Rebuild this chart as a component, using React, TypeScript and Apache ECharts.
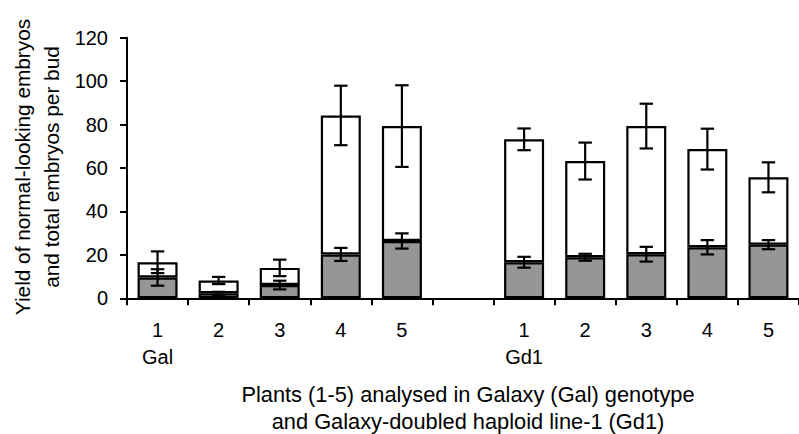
import React, { useEffect, useRef } from "react";
import * as echarts from "echarts";

// Plants 1-5 of Galaxy (Gal), an empty slot, then plants 1-5 of Gd1
const plantLabels = ["1", "2", "3", "4", "5", "", "1", "2", "3", "4", "5"];
const groupLabels = ["Gal", "", "", "", "", "", "Gd1", "", "", "", ""];

// Normal-looking embryos per bud (mean and error)
const normalMean = [9.6, 2.3, 6.1, 20.2, 26.4, null, 16.6, 18.9, 20.3, 23.5, 24.7];
const normalErr = [3.8, 0.7, 2.0, 3.0, 3.5, null, 2.5, 1.6, 3.4, 3.3, 2.1];

// Total embryos per bud (mean and error)
const totalMean = [16.6, 8.2, 14.0, 84.2, 79.3, null, 73.2, 63.2, 79.3, 68.7, 55.7];
const totalErr = [5.0, 1.65, 3.8, 13.7, 18.8, null, 5.0, 8.5, 10.3, 9.4, 6.9];

const yTicks = { min: 0, max: 120, interval: 20 };

const FONT = "'Liberation Sans', Arial, sans-serif";

function errorSeries(means: (number | null)[], errs: (number | null)[]) {
  const data: number[][] = [];
  means.forEach((m, i) => {
    if (m != null && errs[i] != null) data.push([i, m, errs[i] as number]);
  });
  return {
    type: "custom",
    z: 10,
    encode: { x: 0, y: 1 },
    data,
    renderItem: (_params: any, api: any) => {
      const idx = api.value(0);
      const m = api.value(1);
      const e = api.value(2);
      const hi = api.coord([idx, m + e]);
      const lo = api.coord([idx, m - e]);
      const half = 6.7;
      const style = { stroke: "#000", lineWidth: 2.2, fill: "none" };
      return {
        type: "group",
        children: [
          { type: "line", shape: { x1: hi[0], y1: hi[1], x2: lo[0], y2: lo[1] }, style },
          { type: "line", shape: { x1: hi[0] - half, y1: hi[1], x2: hi[0] + half, y2: hi[1] }, style },
          { type: "line", shape: { x1: lo[0] - half, y1: lo[1], x2: lo[0] + half, y2: lo[1] }, style },
        ],
      };
    },
  };
}

export default function App() {
  const ref = useRef<HTMLDivElement>(null);

  useEffect(() => {
    if (!ref.current) return;
    const chart = echarts.init(ref.current, null, { renderer: "svg" });

    const restOfTotal = totalMean.map((t, i) =>
      t == null || normalMean[i] == null ? null : +(t - (normalMean[i] as number)).toFixed(2)
    );

    chart.setOption({
      animation: false,
      backgroundColor: "#fff",
      textStyle: { fontFamily: FONT, color: "#000" },
      grid: { left: 127, top: 37.7, width: 677.6, height: 260.6, containLabel: false },
      xAxis: {
        type: "category",
        data: plantLabels,
        boundaryGap: true,
        axisLine: { show: true, lineStyle: { color: "#000", width: 2 } },
        axisTick: { show: true, length: 7, alignWithLabel: false, interval: 0, lineStyle: { color: "#000", width: 2 } },
        axisLabel: {
          interval: 0,
          margin: 18,
          color: "#000",
          fontSize: 20,
          lineHeight: 27,
          fontFamily: FONT,
          formatter: (value: string, index: number) =>
            groupLabels[index] ? `${value}\n${groupLabels[index]}` : value,
        },
        splitLine: { show: false },
      },
      yAxis: {
        type: "value",
        min: yTicks.min,
        max: yTicks.max,
        interval: yTicks.interval,
        axisLine: { show: true, lineStyle: { color: "#000", width: 2 } },
        axisTick: { show: true, length: 7, lineStyle: { color: "#000", width: 2 } },
        axisLabel: { margin: 19, color: "#000", fontSize: 20, fontFamily: FONT },
        splitLine: { show: false },
      },
      graphic: [
        {
          type: "text",
          x: 37,
          y: 167,
          rotation: Math.PI / 2,
          style: {
            text: "Yield of normal-looking embryos\nand total embryos per bud",
            align: "center",
            verticalAlign: "middle",
            fontSize: 20.8,
            lineHeight: 29,
            fontFamily: FONT,
            fill: "#000",
          },
        },
        {
          type: "text",
          x: 468,
          y: 408,
          style: {
            text: "Plants (1-5) analysed in Galaxy (Gal) genotype\nand Galaxy-doubled haploid line-1 (Gd1)",
            align: "center",
            verticalAlign: "middle",
            fontSize: 21.8,
            lineHeight: 27.5,
            fontFamily: FONT,
            fill: "#000",
          },
        },
      ],
      series: [
        {
          name: "Normal-looking embryos",
          type: "bar",
          stack: "yield",
          barWidth: 40,
          data: normalMean,
          itemStyle: { color: "#969696", borderColor: "#000", borderWidth: 2.2 },
        },
        {
          name: "Total embryos",
          type: "bar",
          stack: "yield",
          barWidth: 40,
          data: restOfTotal,
          itemStyle: { color: "#fff", borderColor: "#000", borderWidth: 2.2 },
        },
        errorSeries(normalMean, normalErr),
        errorSeries(totalMean, totalErr),
      ],
    });

    return () => chart.dispose();
  }, []);

  return (
    <div
      ref={ref}
      style={{ position: "absolute", left: 0, top: 0, width: 799, height: 434 }}
    />
  );
}
